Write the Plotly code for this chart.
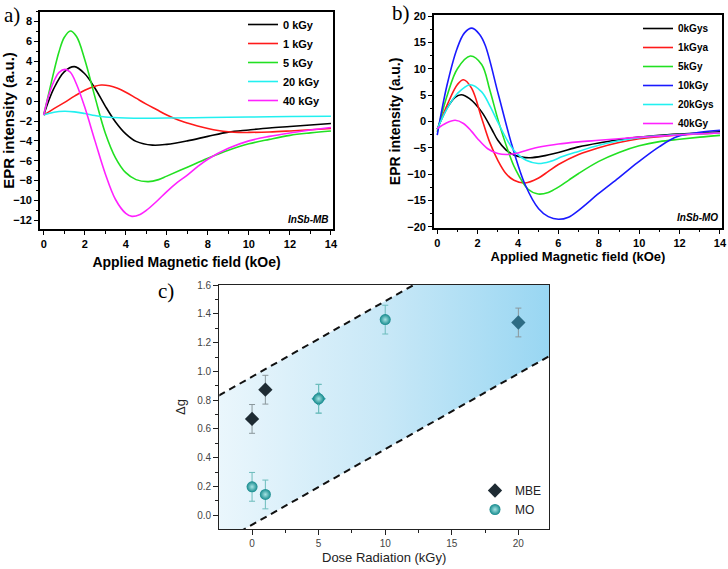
import plotly.graph_objects as go

# ---------------- Panel a: InSb-MB ----------------
a_black_x = [0, 0.5, 1.0, 1.5, 2.0, 2.5, 3.0, 3.5, 4.0, 4.5, 5.3, 6.0, 7.0, 8.0, 9.0, 10.0, 11.0, 12.0, 13.0, 14.0]
a_black_y = [-1.4, 1.3, 2.95, 3.47, 2.75, 1.3, -0.5, -2.1, -3.3, -4.05, -4.43, -4.35, -4.0, -3.55, -3.12, -2.9, -2.7, -2.55, -2.4, -2.25]

a_red_x = [0, 0.5, 1.0, 1.5, 2.0, 2.5, 2.8, 3.2, 3.6, 4.0, 4.5, 5.0, 5.5, 6.0, 6.5, 7.0, 7.5, 8.0, 8.5, 9.0, 9.5, 10.0, 11.0, 12.0, 13.0, 14.0]
a_red_y = [-1.4, -0.75, -0.15, 0.5, 1.1, 1.5, 1.62, 1.55, 1.3, 0.9, 0.3, -0.3, -0.85, -1.4, -1.85, -2.2, -2.5, -2.75, -2.95, -3.08, -3.15, -3.15, -3.1, -3.0, -2.88, -2.75]

a_green_x = [0, 0.25, 0.5, 0.75, 1.0, 1.3, 1.6, 2.0, 2.5, 3.0, 3.5, 4.0, 4.5, 5.1, 5.6, 6.0, 7.0, 8.0, 9.0, 10.0, 11.0, 12.0, 13.0, 14.0]
a_green_y = [-1.4, 0.8, 3.0, 5.0, 6.4, 7.06, 6.5, 4.2, 0.4, -3.2, -5.7, -7.2, -7.9, -8.1, -7.9, -7.55, -6.65, -5.75, -4.95, -4.3, -3.85, -3.45, -3.2, -3.0]

a_cyan_x = [0, 0.5, 1.0, 1.5, 2.0, 2.5, 3.0, 4.0, 5.0, 6.0, 8.0, 10.0, 12.0, 14.0]
a_cyan_y = [-1.4, -1.12, -1.02, -1.08, -1.25, -1.45, -1.6, -1.7, -1.72, -1.7, -1.65, -1.6, -1.55, -1.52]

a_mag_x = [0, 0.25, 0.5, 0.75, 1.04, 1.3, 1.6, 2.0, 2.5, 3.0, 3.5, 4.0, 4.3, 4.7, 5.0, 5.5, 6.0, 6.5, 7.0, 7.5, 8.0, 9.0, 10.0, 11.0, 12.0, 13.0, 14.0]
a_mag_y = [-1.4, 0.6, 2.0, 2.9, 3.2, 2.9, 1.7, -0.6, -4.0, -7.3, -9.9, -11.3, -11.6, -11.4, -11.0, -10.1, -9.1, -8.2, -7.45, -6.6, -5.85, -4.75, -4.0, -3.55, -3.2, -2.9, -2.65]

a_names = ["0 kGy", "1 kGy", "5 kGy", "20 kGy", "40 kGy"]
a_colors = ["#000000", "#ff1a1a", "#22e022", "#22f0f0", "#ff22ff"]

# ---------------- Panel b: InSb-MO ----------------
b_black_x = [0, 0.5, 0.9, 1.19, 1.6, 2.2, 2.7, 3.0, 3.4, 3.8, 4.2, 4.6, 5.2, 6.0, 7.0, 8.0, 9.0, 10.0, 11.0, 12.0, 13.0, 14.0]
b_black_y = [-1.5, 2.6, 4.6, 5.06, 4.3, 1.8, -1.5, -3.6, -5.4, -6.4, -6.8, -6.9, -6.6, -5.9, -4.85, -4.1, -3.5, -3.0, -2.65, -2.4, -2.2, -2.0]

b_red_x = [0, 0.5, 1.0, 1.3, 1.7, 2.2, 2.6, 3.0, 3.4, 3.8, 4.36, 5.0, 5.5, 6.0, 7.0, 8.0, 9.0, 10.0, 11.0, 12.0, 13.0, 14.0]
b_red_y = [-1.5, 3.2, 7.0, 7.9, 6.3, 0.6, -4.0, -7.4, -9.9, -11.2, -11.7, -10.8, -9.5, -8.2, -6.3, -5.0, -4.0, -3.3, -2.9, -2.6, -2.4, -2.2]

b_green_x = [0, 0.5, 1.0, 1.64, 2.2, 2.6, 3.04, 3.5, 3.86, 4.5, 5.0, 5.5, 6.0, 6.5, 7.0, 8.0, 9.0, 10.0, 11.0, 12.0, 13.0, 14.0]
b_green_y = [-2.0, 5.0, 10.0, 12.4, 10.8, 6.0, -0.1, -5.5, -9.0, -12.9, -13.8, -13.5, -12.5, -11.2, -9.9, -7.6, -5.9, -4.65, -3.85, -3.4, -3.0, -2.66]

b_blue_x = [0, 0.48, 0.98, 1.35, 1.72, 2.1, 2.38, 3.04, 3.7, 4.36, 5.02, 5.5, 6.0, 6.5, 7.0, 8.0, 9.0, 9.9, 11.0, 11.9, 13.0, 14.0]
b_blue_y = [-2.6, 6.8, 13.8, 16.8, 17.7, 16.5, 14.4, 4.9, -4.55, -12.1, -16.6, -18.1, -18.6, -18.2, -16.9, -13.7, -10.7, -7.9, -4.8, -2.9, -2.1, -1.7]

b_cyan_x = [0, 0.5, 1.0, 1.64, 2.2, 2.6, 3.04, 3.5, 3.86, 4.4, 5.0, 5.6, 6.2, 6.92, 8.0, 9.0, 10.2, 11.0, 12.0, 13.0, 14.0]
b_cyan_y = [-1.5, 2.5, 5.3, 6.96, 5.6, 3.0, -0.45, -3.8, -5.8, -7.4, -8.0, -7.6, -6.7, -5.8, -4.55, -3.7, -3.0, -2.75, -2.5, -2.35, -2.2]

b_mag_x = [0, 0.45, 0.89, 1.3, 1.7, 2.0, 2.5, 3.0, 3.45, 4.0, 4.7, 5.5, 6.0, 7.0, 8.0, 9.0, 10.0, 11.0, 12.0, 13.0, 14.0]
b_mag_y = [-1.4, -0.3, 0.2, -0.4, -1.9, -3.3, -5.2, -6.1, -6.3, -6.0, -5.2, -4.6, -4.3, -3.9, -3.6, -3.3, -3.0, -2.8, -2.55, -2.35, -2.2]

b_names = ["0kGys", "1kGya", "5kGy", "10kGy", "20kGys", "40kGy"]
b_colors = ["#000000", "#ff1a1a", "#22e022", "#1a1aff", "#22f0f0", "#ff22ff"]

# ---------------- Panel c: delta g vs dose ----------------
mbe_x = [0, 1, 20]
mbe_y = [0.67, 0.873, 1.34]
mbe5_x = [5]
mbe5_y = [0.81]
mo_x = [0, 1, 5, 10]
mo_y = [0.198, 0.145, 0.81, 1.36]
err = 0.1

band_x = [-2.5, 22.5]
band_upper = [0.832, 2.145]
band_lower = [-0.197, 1.116]

fig = go.Figure()

BOLD = "Arial, Liberation Sans, sans-serif"

def add_curves(xs, ys, names, colors, xa, ya, leg):
    for x, y, n, c in zip(xs, ys, names, colors):
        fig.add_trace(go.Scatter(
            x=x, y=y, name=n, mode="lines",
            line=dict(color=c, width=1.6, shape="spline", smoothing=1.0),
            xaxis=xa, yaxis=ya, legend=leg))

add_curves([a_black_x, a_red_x, a_green_x, a_cyan_x, a_mag_x],
           [a_black_y, a_red_y, a_green_y, a_cyan_y, a_mag_y],
           a_names, a_colors, "x", "y", "legend")
add_curves([b_black_x, b_red_x, b_green_x, b_blue_x, b_cyan_x, b_mag_x],
           [b_black_y, b_red_y, b_green_y, b_blue_y, b_cyan_y, b_mag_y],
           b_names, b_colors, "x2", "y2", "legend2")

# gradient band
fig.add_trace(go.Scatter(
    x=band_x + band_x[::-1], y=band_lower + band_upper[::-1],
    mode="lines", line=dict(width=0), fill="toself",
    fillgradient=dict(type="horizontal",
                      colorscale=[[0, "#eaf6fc"], [0.5, "#c8e8f7"], [1, "#98d6f2"]]),
    xaxis="x3", yaxis="y3", showlegend=False, hoverinfo="skip"))
for yy in (band_upper, band_lower):
    fig.add_trace(go.Scatter(
        x=band_x, y=yy, mode="lines",
        line=dict(color="#111111", width=2, dash="7px,5px"),
        xaxis="x3", yaxis="y3", showlegend=False))

fig.add_trace(go.Scatter(
    x=mbe5_x, y=mbe5_y, mode="markers",
    marker=dict(symbol="diamond", size=11, color="#2a9aa2"),
    error_y=dict(type="constant", value=err, color="#6cbcbc", thickness=1, width=3),
    xaxis="x3", yaxis="y3", showlegend=False))
fig.add_trace(go.Scatter(
    x=mbe_x, y=mbe_y, mode="markers", name="MBE",
    marker=dict(symbol="diamond", size=11, color=["#1e2b33", "#1e2b33", "#2d6c84"]),
    error_y=dict(type="constant", value=err, color="#8a979c", thickness=1, width=3),
    xaxis="x3", yaxis="y3", legend="legend3"))
fig.add_trace(go.Scatter(
    x=mo_x, y=mo_y, mode="markers", name="MO",
    marker=dict(symbol="circle", size=11, color="#14898c",
                gradient=dict(type="radial", color="#a6e4e4")),
    error_y=dict(type="constant", value=err, color="#6cbcbc", thickness=1, width=3),
    xaxis="x3", yaxis="y3", legend="legend3"))

W, H = 728, 569
def px(v): return v / W
def py(v): return 1 - v / H

tickf_bold = dict(family=BOLD, size=11, color="#000000", weight="bold")
common_ab = dict(showline=True, linecolor="#000000", linewidth=1.6, mirror=True,
                 ticks="outside", ticklen=4, tickwidth=1.4, tickcolor="#000",
                 showgrid=False, zeroline=False, automargin=False,
                 tickfont=tickf_bold)

fig.update_layout(
    width=W, height=H, margin=dict(l=0, r=0, t=0, b=0),
    paper_bgcolor="white", plot_bgcolor="white",
    xaxis=dict(domain=[px(40), px(333)], range=[-0.18, 14.1], anchor="y",
               tickvals=[0, 2, 4, 6, 8, 10, 12, 14],
               minor=dict(dtick=1, ticklen=2.5, tickwidth=1.2, ticks="outside"),
               title=dict(text="<b>Applied Magnetic field (kOe)</b>", standoff=8,
                          font=dict(family=BOLD, size=14, color="#000")),
               **common_ab),
    yaxis=dict(domain=[py(229.3), py(11.7)], range=[-12.9, 9.0], anchor="x",
               dtick=2, minor=dict(dtick=1, ticklen=2.5, tickwidth=1.2, ticks="outside"),
               title=dict(text="<b>EPR intensity (a.u.)</b>", standoff=3,
                          font=dict(family=BOLD, size=15, color="#000")),
               **common_ab),
    xaxis2=dict(domain=[px(434), px(722)], range=[-0.16, 14.1], anchor="y2",
                tickvals=[0, 2, 4, 6, 8, 10, 12, 14],
                minor=dict(dtick=1, ticklen=2.5, tickwidth=1.2, ticks="outside"),
                title=dict(text="<b>Applied Magnetic field (kOe)</b>", standoff=0,
                           font=dict(family=BOLD, size=13, color="#000")),
                **common_ab),
    yaxis2=dict(domain=[py(227.7), py(15)], range=[-20.2, 20.2], anchor="x2",
                dtick=5, minor=dict(dtick=2.5, ticklen=2.5, tickwidth=1.2, ticks="outside"),
                title=dict(text="<b>EPR intensity (a.u.)</b>", standoff=3,
                           font=dict(family=BOLD, size=14, color="#000")),
                **common_ab),
    xaxis3=dict(domain=[px(219.3), px(549)], range=[-2.46, 22.3], anchor="y3",
                tickvals=[0, 5, 10, 15, 20],
                minor=dict(dtick=2.5, tick0=0, ticklen=3, tickwidth=1, ticks="outside"),
                showline=True, linecolor="#222", linewidth=1.2, mirror=True,
                ticks="outside", ticklen=5, tickwidth=1, tickcolor="#222",
                showgrid=False, zeroline=False, automargin=False,
                tickfont=dict(family=BOLD, size=10, color="#444"),
                title=dict(text="Dose Radiation (kGy)", standoff=4,
                           font=dict(family=BOLD, size=13, color="#222"))),
    yaxis3=dict(domain=[py(529), py(285)], range=[-0.095, 1.6005], anchor="x3",
                tickvals=[0, 0.2, 0.4, 0.6, 0.8, 1.0, 1.2, 1.4, 1.6], tickformat=".1f",
                minor=dict(dtick=0.1, ticklen=3, tickwidth=1, ticks="outside"),
                showline=True, linecolor="#222", linewidth=1.2, mirror=True,
                ticks="outside", ticklen=5, tickwidth=1, tickcolor="#222",
                showgrid=False, zeroline=False, automargin=False,
                tickfont=dict(family=BOLD, size=10, color="#444"),
                title=dict(text="Δg", standoff=8,
                           font=dict(family=BOLD, size=13, color="#222"))),
    legend=dict(x=px(243), y=py(10), xanchor="left", yanchor="top",
                bgcolor="rgba(0,0,0,0)", font=dict(family=BOLD, size=11, color="#000", weight="bold"),
                itemwidth=30, tracegroupgap=0),
    legend2=dict(x=px(638), y=py(14), xanchor="left", yanchor="top",
                 bgcolor="rgba(0,0,0,0)", font=dict(family=BOLD, size=10, color="#000", weight="bold"),
                 itemwidth=30, tracegroupgap=0),
    legend3=dict(x=px(547), y=py(524), xanchor="right", yanchor="bottom",
                 bgcolor="rgba(0,0,0,0)", font=dict(family=BOLD, size=12, color="#222"),
                 itemwidth=30, tracegroupgap=0),
    showlegend=True,
)

ann = [
    dict(text="a)", x=px(2), y=py(15), xanchor="left", yanchor="middle",
         font=dict(family="Liberation Serif, Times New Roman, serif", size=21, color="#000")),
    dict(text="b)", x=px(390), y=py(13), xanchor="left", yanchor="middle",
         font=dict(family="Liberation Serif, Times New Roman, serif", size=21, color="#000")),
    dict(text="c)", x=px(156), y=py(291), xanchor="left", yanchor="middle",
         font=dict(family="Liberation Serif, Times New Roman, serif", size=21, color="#000")),
    dict(text="<b><i>InSb-MB</i></b>", x=px(331), y=py(227), xanchor="right", yanchor="bottom",
         font=dict(family=BOLD, size=10, color="#000")),
    dict(text="<b><i>InSb-MO</i></b>", x=px(720), y=py(225), xanchor="right", yanchor="bottom",
         font=dict(family=BOLD, size=10, color="#000")),
]
for a in ann:
    a.update(xref="paper", yref="paper", showarrow=False)
fig.update_layout(annotations=ann)

fig.write_html("out.html")
